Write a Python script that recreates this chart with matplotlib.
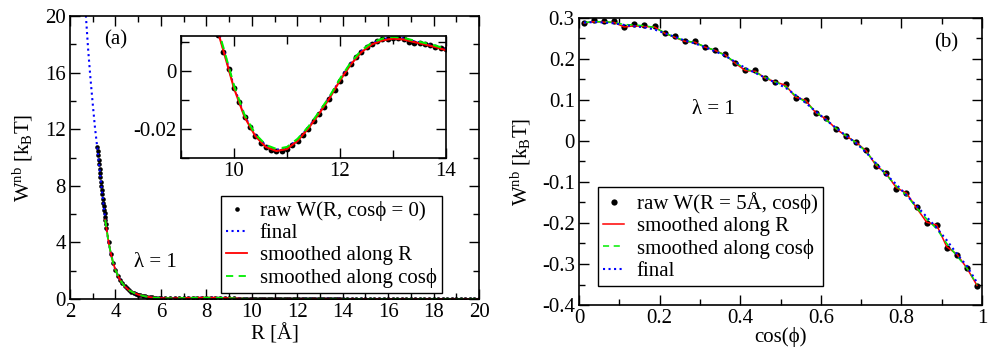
import numpy as np
import matplotlib
matplotlib.use('Agg')
import matplotlib.pyplot as plt
from matplotlib.ticker import MultipleLocator, FuncFormatter

plt.rcParams['font.family'] = ['Liberation Serif', 'DejaVu Serif']
plt.rcParams['mathtext.fontset'] = 'custom'
plt.rcParams['mathtext.rm'] = 'Liberation Serif'
plt.rcParams['mathtext.it'] = 'Liberation Serif:italic'
plt.rcParams['axes.unicode_minus'] = False

# ---- panel (a): W(R, cos phi = 0) ----
# R grid of the raw histogram points
R_raw = np.round(np.concatenate([
    np.arange(3.20, 3.59, 0.02),   # 20 points
    np.arange(3.6, 5.95, 0.1),     # 24 points
    np.arange(6.0, 9.45, 0.2),     # 18 points
    np.arange(9.5, 14.05, 0.1),    # 46 points
    np.arange(14.2, 20.05, 0.2),   # 30 points
]), 2)
W_raw = [
    10.75, 10.45, 10.15, 9.85, 9.55, 9.2, 8.9, 8.6, 8.3, 8.0,
    7.7, 7.4, 7.1, 6.8, 6.55, 6.3, 6.05, 5.8, 5.55, 5.3,
    5.05, 4.0, 3.2, 2.55, 2.05, 1.66, 1.35, 1.1, 0.9, 0.75, 0.62, 0.52,
    0.44, 0.37, 0.31, 0.27, 0.23, 0.19, 0.16, 0.13, 0.11, 0.09, 0.08, 0.07,
    0.06, 0.055, 0.05, 0.05, 0.06, 0.07, 0.08, 0.085, 0.09, 0.1,
    0.1, 0.1, 0.095, 0.085, 0.075, 0.06, 0.045, 0.033,
    0.026, 0.019, 0.0125, 0.0065, 0.0005, -0.0058, -0.0108, -0.0158, -0.0192, -0.0224,
    -0.0247, -0.0262, -0.0272, -0.0277, -0.0276, -0.0270, -0.0256, -0.0240, -0.0220, -0.0199,
    -0.0174, -0.0150, -0.0124, -0.0096, -0.0066, -0.0034, -0.0006, 0.0022, 0.0046, 0.0066,
    0.0082, 0.0094, 0.0103, 0.0108, 0.0111, 0.0113, 0.0112, 0.0108, 0.0101, 0.0096,
    0.0097, 0.0092, 0.0088, 0.0083, 0.0079, 0.0074,
    0.0068, 0.0062, 0.0056, 0.005, 0.0045, 0.004, 0.0036, 0.0032, 0.0028, 0.0025,
    0.0022, 0.002, 0.0018, 0.0016, 0.0014, 0.0012, 0.001, 0.0009, 0.0008, 0.0007,
    0.0006, 0.0005, 0.0004, 0.0003, 0.0003, 0.0002, 0.0002, 0.0001, 0.0001, 0.0,
]

R_line = [2.65, 2.7, 2.8, 2.9, 3.0, 3.1, 3.2, 3.3, 3.4, 3.5, 3.6, 3.7, 3.8, 3.9, 4.0,
          4.2, 4.4, 4.6, 4.8, 5.0, 5.3, 5.6, 6.0, 6.5, 7.0, 7.5, 8.0, 8.5, 9.0, 9.3,
          9.6, 9.8, 10.0, 10.2, 10.4, 10.6, 10.8, 11.0, 11.2, 11.4, 11.6, 11.8, 12.0,
          12.2, 12.4, 12.6, 12.8, 13.0, 13.2, 13.4, 13.6, 13.8, 14.0,
          15, 16, 17, 18, 19, 20]
W_final = [21.2, 20.0, 17.6, 15.6, 13.8, 12.1, 10.7, 9.2, 7.7, 6.3, 5.05, 4.0, 3.2, 2.55, 2.05,
           1.35, 0.9, 0.62, 0.44, 0.31, 0.19, 0.11, 0.06, 0.05, 0.07, 0.09, 0.1, 0.09, 0.06, 0.04,
           0.02, 0.0075, -0.0055, -0.0155, -0.022, -0.0258, -0.0272, -0.0265, -0.0237, -0.0196,
           -0.0146, -0.0092, -0.003, 0.0025, 0.0068, 0.0095, 0.0109, 0.0115, 0.0112, 0.0102,
           0.0094, 0.0085, 0.0074, 0.004, 0.002, 0.001, 0.0005, 0.0002, 0.0]

R_smooth = [3.55, 3.6, 3.7, 3.8, 3.9, 4.0, 4.2, 4.4, 4.6, 4.8, 5.0, 5.3, 5.6, 6.0, 6.5, 7.0,
            7.5, 8.0, 8.5, 9.0, 9.3, 9.6, 9.8, 10.0, 10.2, 10.4, 10.6, 10.8, 11.0, 11.2,
            11.4, 11.6, 11.8, 12.0, 12.2, 12.4, 12.6, 12.8, 13.0, 13.2, 13.4, 13.6, 13.8,
            14.0, 15, 16, 17, 18, 19, 20]
W_smooth_R = [5.6, 5.05, 4.0, 3.2, 2.55, 2.05, 1.35, 0.9, 0.62, 0.44, 0.31, 0.19, 0.11, 0.06,
              0.05, 0.07, 0.09, 0.1, 0.09, 0.06, 0.04, 0.0195, 0.007, -0.006, -0.0159, -0.0224,
              -0.0262, -0.0276, -0.0269, -0.0241, -0.0199, -0.0149, -0.0095, -0.0033, 0.0021,
              0.0064, 0.0091, 0.0105, 0.0111, 0.0108, 0.0099, 0.0091, 0.0082, 0.0071,
              0.004, 0.002, 0.001, 0.0005, 0.0002, 0.0]
W_smooth_cos = [5.6, 5.05, 4.0, 3.2, 2.55, 2.05, 1.35, 0.9, 0.62, 0.44, 0.31, 0.19, 0.11, 0.06,
                0.05, 0.07, 0.09, 0.1, 0.09, 0.06, 0.04, 0.0205, 0.008, -0.005, -0.0152, -0.0217,
                -0.0255, -0.0269, -0.0262, -0.0234, -0.0193, -0.0143, -0.0089, -0.0027, 0.0028,
                0.007, 0.0097, 0.0111, 0.0117, 0.0114, 0.0104, 0.0096, 0.0087, 0.0076,
                0.004, 0.002, 0.001, 0.0005, 0.0002, 0.0]

# ---- panel (b): W(R = 5 A, cos phi) ----
cos_phi = [0.0125, 0.0375, 0.0625, 0.0875, 0.1125, 0.1375, 0.1625, 0.1875, 0.2125, 0.2375,
           0.2625, 0.2875, 0.3125, 0.3375, 0.3625, 0.3875, 0.4125, 0.4375, 0.4625, 0.4875,
           0.5125, 0.5375, 0.5625, 0.5875, 0.6125, 0.6375, 0.6625, 0.6875, 0.7125, 0.7375,
           0.7625, 0.7875, 0.8125, 0.8375, 0.8625, 0.8875, 0.9125, 0.9375, 0.9625, 0.9875]
Wb_raw = [0.288, 0.295, 0.292, 0.292, 0.279, 0.285, 0.282, 0.281, 0.263, 0.255,
          0.245, 0.243, 0.230, 0.222, 0.212, 0.191, 0.173, 0.172, 0.154, 0.145,
          0.138, 0.105, 0.100, 0.068, 0.055, 0.029, 0.013, -0.003, -0.022, -0.060,
          -0.079, -0.116, -0.128, -0.162, -0.199, -0.206, -0.260, -0.277, -0.309, -0.353]
Wb_smooth_R = [0.288, 0.291, 0.290, 0.289, 0.278, 0.281, 0.279, 0.278, 0.263, 0.253,
               0.243, 0.241, 0.229, 0.221, 0.210, 0.190, 0.172, 0.170, 0.153, 0.144,
               0.136, 0.107, 0.099, 0.069, 0.054, 0.030, 0.012, -0.003, -0.024, -0.060,
               -0.080, -0.114, -0.127, -0.163, -0.198, -0.205, -0.258, -0.276, -0.310, -0.352]
Wb_smooth_cos = [0.289, 0.291, 0.291, 0.289, 0.284, 0.283, 0.281, 0.277, 0.264, 0.253,
                 0.245, 0.240, 0.230, 0.221, 0.209, 0.192, 0.176, 0.168, 0.155, 0.144,
                 0.133, 0.110, 0.095, 0.071, 0.052, 0.031, 0.013, -0.004, -0.026, -0.057,
                 -0.082, -0.110, -0.132, -0.163, -0.190, -0.214, -0.250, -0.280, -0.310, -0.350]
Wb_final = [0.289, 0.290, 0.289, 0.287, 0.283, 0.280, 0.277, 0.272, 0.263, 0.254,
            0.245, 0.238, 0.229, 0.219, 0.208, 0.193, 0.178, 0.166, 0.154, 0.142,
            0.130, 0.112, 0.093, 0.072, 0.052, 0.032, 0.013, -0.005, -0.028, -0.055,
            -0.082, -0.106, -0.132, -0.158, -0.185, -0.212, -0.242, -0.275, -0.305, -0.345]

FS = 15
LFS = 15
GREEN = '#00ee00'
fmt = FuncFormatter(lambda v, p: '%g' % round(v, 6))
ylab = r'W$^{\mathrm{nb}}$ [k$_{\mathrm{B}}$T]'


def grace_axes(ax, fs=FS):
    ax.tick_params(which='both', direction='in', top=True, right=True,
                   labelsize=fs, width=1.0, pad=3)
    ax.tick_params(which='major', length=7)
    ax.tick_params(which='minor', length=4)
    for s in ax.spines.values():
        s.set_linewidth(1.2)
    ax.xaxis.set_major_formatter(fmt)
    ax.yaxis.set_major_formatter(fmt)


def grace_legend(ax, anchor):
    leg = ax.legend(loc='lower left', bbox_to_anchor=anchor, fontsize=LFS,
                    numpoints=1, handlelength=1.0, handletextpad=0.6, labelspacing=0.12,
                    borderpad=0.25, borderaxespad=0, fancybox=False, framealpha=1,
                    edgecolor='black')
    leg.get_frame().set_linewidth(1.0)
    return leg


fig = plt.figure(figsize=(9.9, 3.5), dpi=100)

# left main panel
ax1 = fig.add_axes([70/990, 1-299/350, 409/990, 283/350])
ax1.plot(R_raw, W_raw, 'o', color='black', ms=3.3, mec='none', label='raw W(R, cosϕ = 0)')
ax1.plot(R_line, W_final, ':', color='blue', lw=1.5, label='final')
ax1.plot(R_smooth, W_smooth_R, '-', color='red', lw=1.3, label='smoothed along R')
ax1.plot(R_smooth, W_smooth_cos, '--', color=GREEN, lw=1.3, dashes=(4, 3),
         label='smoothed along cosϕ')
ax1.set_xlim(2, 20)
ax1.set_ylim(0, 20)
ax1.xaxis.set_major_locator(MultipleLocator(2))
ax1.xaxis.set_minor_locator(MultipleLocator(1))
ax1.yaxis.set_major_locator(MultipleLocator(4))
ax1.yaxis.set_minor_locator(MultipleLocator(2))
grace_axes(ax1)
ax1.set_xlabel('R [Å]', fontsize=FS)
ax1.set_ylabel(ylab, fontsize=FS)
ax1.xaxis.set_label_coords(0.5, -0.09)
ax1.yaxis.set_label_coords(-0.085, 0.5)
ax1.text(3.5, 18.3, '(a)', fontsize=FS, va='center')
ax1.text(4.8, 2.6, 'λ = 1', fontsize=FS, va='center')
grace_legend(ax1, (151/409, 6/283))

# inset
ax_in = fig.add_axes([181/990, 1-158/350, 265/990, 122/350])
ax_in.plot(R_raw, W_raw, 'o', color='black', ms=4.2, mec='none')
ax_in.plot(R_line, W_final, ':', color='blue', lw=1.5)
ax_in.plot(R_smooth, W_smooth_R, '-', color='red', lw=1.5)
ax_in.plot(R_smooth, W_smooth_cos, '--', color=GREEN, lw=1.5, dashes=(4, 3))
ax_in.set_xlim(9, 14)
ax_in.set_ylim(-0.03, 0.012)
ax_in.xaxis.set_major_locator(MultipleLocator(2))
ax_in.xaxis.set_minor_locator(MultipleLocator(1))
ax_in.yaxis.set_major_locator(MultipleLocator(0.02))
ax_in.yaxis.set_minor_locator(MultipleLocator(0.01))
grace_axes(ax_in)
ax_in.tick_params(which='minor', length=6)

# right panel
ax2 = fig.add_axes([579/990, 1-305/350, 403/990, 287/350])
ax2.plot(cos_phi, Wb_raw, 'o', color='black', ms=4.5, mec='none', label='raw W(R = 5Å, cosϕ)')
ax2.plot(cos_phi, Wb_smooth_R, '-', color='red', lw=1.1, label='smoothed along R')
ax2.plot(cos_phi, Wb_smooth_cos, '--', color=GREEN, lw=1.1, dashes=(4, 3),
         label='smoothed along cosϕ')
ax2.plot(cos_phi, Wb_final, ':', color='blue', lw=1.5, label='final')
ax2.set_xlim(0, 1)
ax2.set_ylim(-0.4, 0.3)
ax2.xaxis.set_major_locator(MultipleLocator(0.2))
ax2.xaxis.set_minor_locator(MultipleLocator(0.1))
ax2.yaxis.set_major_locator(MultipleLocator(0.1))
ax2.yaxis.set_minor_locator(MultipleLocator(0.05))
grace_axes(ax2)
ax2.set_xlabel('cos(ϕ)', fontsize=FS)
ax2.set_ylabel(ylab, fontsize=FS)
ax2.xaxis.set_label_coords(0.5, -0.075)
ax2.yaxis.set_label_coords(-0.115, 0.5)
ax2.text(0.88, 0.24, '(b)', fontsize=FS, va='center')
ax2.text(0.28, 0.076, 'λ = 1', fontsize=FS, va='center')
grace_legend(ax2, (19/403, 19/287))

fig.savefig('out.png', dpi=100)
